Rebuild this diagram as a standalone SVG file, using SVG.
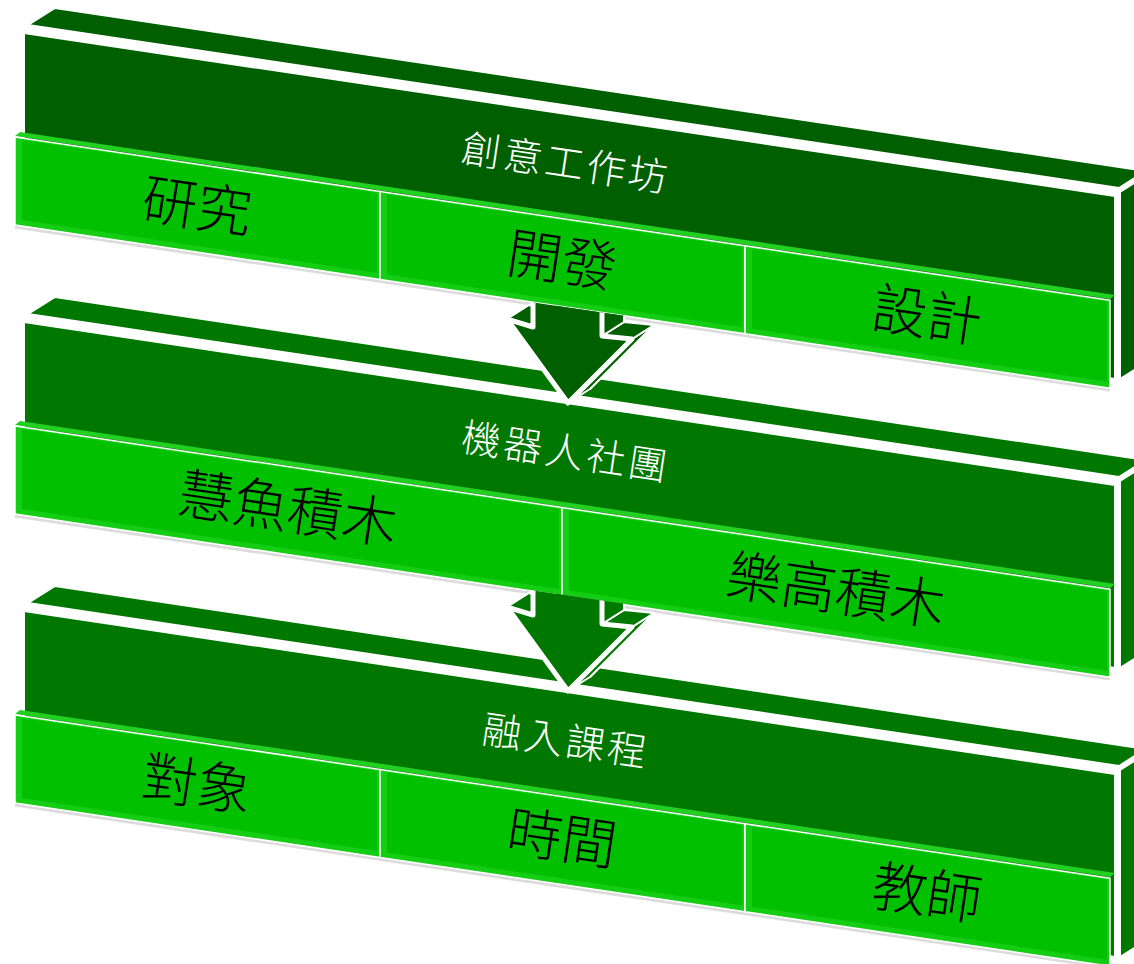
<svg xmlns="http://www.w3.org/2000/svg" width="1134" height="964" viewBox="0 0 1134 964">
<defs>
<style>
.d1{fill:#006000;stroke:#fff;stroke-width:2;stroke-linejoin:round}
.d2{fill:#007800;stroke:#fff;stroke-width:2;stroke-linejoin:round}
.strip{fill:#22D022;stroke:none}
.shadow{fill:none;stroke:#dcdcdc;stroke-width:3}
.bev{fill:#16CD16;stroke:#fff;stroke-width:1.5;stroke-linejoin:round}
.cell{fill:#00C000;stroke:none}
.title{font-family:"Noto Sans CJK TC","Noto Sans CJK SC",sans-serif;font-size:39px;font-weight:300;fill:#fff;text-anchor:middle;letter-spacing:3px}
.lbl{font-family:"Noto Sans CJK TC","Noto Sans CJK SC",sans-serif;font-size:55px;font-weight:300;fill:#000;text-anchor:middle}
.af{stroke:#fff;stroke-width:5;stroke-linejoin:round}
.ab{stroke:#fff;stroke-width:2;stroke-linejoin:round}
</style>
<clipPath id="belowBar" clipPathUnits="userSpaceOnUse">
<polygon points="470,293 710,328.6 710,430 470,430"/>
</clipPath>
</defs>
<rect width="1134" height="964" fill="#fff"/>

<g id="slab3" transform="translate(0,578)">
<polygon class="d2" points="28,25 55,8 1146,171 1119,188"/>
<polygon class="d2" points="24,33 1115,196 1115,379 24,216"/>
<polygon class="d2" points="1120,192 1147,175 1147,362 1120,379"/>
<text class="title" transform="translate(566,163) rotate(8.47)" y="14">融入課程</text>
<line class="shadow" x1="15" y1="227" x2="1110" y2="390"/>
<polygon class="strip" points="15,136 20,132 1115,295 1110,299"/>
<g id="cell3a">
<polygon class="bev" points="15,137 380,191.4 380,279.4 15,225"/>
<polygon class="cell" points="22,140 377,192.9 377,272.9 22,220"/>
<text class="lbl" transform="translate(197,206) rotate(8.47)" y="20">對象</text>
</g>
<g id="cell3b">
<polygon class="bev" points="380,191.4 745,245.8 745,333.8 380,279.4"/>
<polygon class="cell" points="387,194.4 742,247.3 742,327.3 387,274.4"/>
<text class="lbl" transform="translate(562,260) rotate(8.47)" y="20">時間</text>
</g>
<g id="cell3c">
<polygon class="bev" points="745,245.8 1110,300.2 1110,388.2 745,333.8"/>
<polygon class="cell" points="752,248.8 1107,301.7 1107,381.7 752,328.8"/>
<text class="lbl" transform="translate(927,315) rotate(8.47)" y="20">教師</text>
</g>
</g>

<g id="slab2" transform="translate(0,289)">
<polygon class="d2" points="28,25 55,8 1146,171 1119,188"/>
<polygon class="d2" points="24,33 1115,196 1115,379 24,216"/>
<polygon class="d2" points="1120,192 1147,175 1147,362 1120,379"/>
<text class="title" transform="translate(566,163) rotate(8.47)" y="14">機器人社團</text>
<line class="shadow" x1="15" y1="227" x2="1110" y2="390"/>
<polygon class="strip" points="15,136 20,132 1115,295 1110,299"/>
<g id="cell2a">
<polygon class="bev" points="15,137 562,218.5 562,306.5 15,225"/>
<polygon class="cell" points="22,140 559,220.1 559,300.1 22,220"/>
<text class="lbl" transform="translate(288,219.6) rotate(8.47)" y="20">慧魚積木</text>
</g>
<g id="cell2b">
<polygon class="bev" points="562,218.5 1110,300.2 1110,388.2 562,306.5"/>
<polygon class="cell" points="569,221.5 1107,301.7 1107,381.7 569,301.5"/>
<text class="lbl" transform="translate(836,301.2) rotate(8.47)" y="20">樂高積木</text>
</g>
</g>

<g id="slab1">
<polygon class="d1" points="28,25 55,8 1146,171 1119,188"/>
<polygon class="d1" points="24,33 1115,196 1115,379 24,216"/>
<polygon class="d1" points="1120,192 1147,175 1147,362 1120,379"/>
<text class="title" transform="translate(566,163) rotate(8.47)" y="14">創意工作坊</text>
<line class="shadow" x1="15" y1="227" x2="1110" y2="390"/>
<polygon class="strip" points="15,136 20,132 1115,295 1110,299"/>
<g id="cell1a">
<polygon class="bev" points="15,137 380,191.4 380,279.4 15,225"/>
<polygon class="cell" points="22,140 377,192.9 377,272.9 22,220"/>
<text class="lbl" transform="translate(197,206) rotate(8.47)" y="20">研究</text>
</g>
<g id="cell1b">
<polygon class="bev" points="380,191.4 745,245.8 745,333.8 380,279.4"/>
<polygon class="cell" points="387,194.4 742,247.3 742,327.3 387,274.4"/>
<text class="lbl" transform="translate(562,260) rotate(8.47)" y="20">開發</text>
</g>
<g id="cell1c">
<polygon class="bev" points="745,245.8 1110,300.2 1110,388.2 745,333.8"/>
<polygon class="cell" points="752,248.8 1107,301.7 1107,381.7 752,328.8"/>
<text class="lbl" transform="translate(927,315) rotate(8.47)" y="20">設計</text>
</g>
</g>

<g id="connectors">
<g id="arrow1" clip-path="url(#belowBar)" fill="#006000">
<polygon class="ab" points="555,256 555,313 529,305 590,389 654,325 624,322 624,256"/>
<polygon class="ab" points="533,327 507,319 529,305 555,313"/>
<polygon class="ab" points="568,403 632,339 654,325 590,389"/>
<polygon class="ab" points="632,339 602,336 624,322 654,325"/>
<polygon class="ab" points="602,336 602,270 624,256 624,322"/>
<polygon class="af" points="533,270 533,327 507,319 568,403 632,339 602,336 602,270"/>
</g>
<g transform="translate(0,288)">
<g id="arrow2" clip-path="url(#belowBar)" fill="#007800">
<polygon class="ab" points="555,256 555,313 529,305 590,389 654,325 624,322 624,256"/>
<polygon class="ab" points="533,327 507,319 529,305 555,313"/>
<polygon class="ab" points="568,403 632,339 654,325 590,389"/>
<polygon class="ab" points="632,339 602,336 624,322 654,325"/>
<polygon class="ab" points="602,336 602,270 624,256 624,322"/>
<polygon class="af" points="533,270 533,327 507,319 568,403 632,339 602,336 602,270"/>
</g>
</g>
</g>
</svg>
